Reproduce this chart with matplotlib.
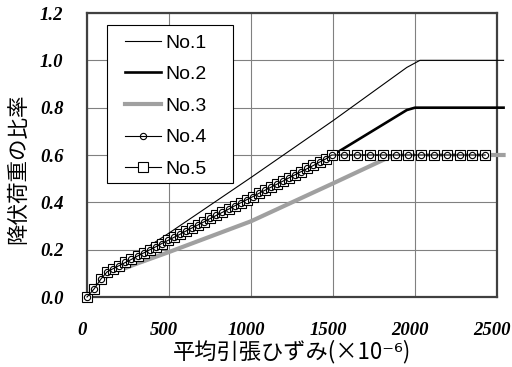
import matplotlib
matplotlib.use("Agg")
import matplotlib.pyplot as plt
from matplotlib.patches import Rectangle
from matplotlib.ticker import FormatStrFormatter
from matplotlib.transforms import ScaledTranslation

# series
x_no1 = [0, 43, 85, 122, 300, 500, 1000, 1500, 1950, 2030, 2540]
y_no1 = [0, 0.034, 0.076, 0.106, 0.18, 0.27, 0.505, 0.745, 0.97, 1.0, 1.0]

x_no2 = [0, 43, 85, 122, 500, 1000, 1500, 1950, 2000, 2540]
y_no2 = [0, 0.034, 0.076, 0.106, 0.240, 0.421, 0.600, 0.79, 0.80, 0.80]

x_no3 = [0, 43, 85, 150, 300, 500, 1000, 1500, 1870, 2540]
y_no3 = [0, 0.034, 0.07, 0.10, 0.14, 0.19, 0.32, 0.48, 0.60, 0.60]

x_no4 = [0, 43, 85, 122, 160, 197, 234, 271, 308, 345, 382, 419, 456, 493,
         530, 567, 604, 641, 678, 715, 752, 789, 826, 863, 900, 937, 974,
         1011, 1048, 1085, 1122, 1159, 1196, 1233, 1270, 1307, 1344, 1381,
         1418, 1455, 1492, 1570, 1648, 1726, 1804, 1882, 1960, 2038, 2116,
         2194, 2272, 2350, 2428]
y_no4 = [0, 0.034, 0.076, 0.106, 0.120, 0.133, 0.146, 0.159, 0.173, 0.186,
         0.199, 0.212, 0.226, 0.239, 0.252, 0.265, 0.279, 0.292, 0.305, 0.318,
         0.332, 0.345, 0.358, 0.371, 0.385, 0.398, 0.411, 0.424, 0.438, 0.451,
         0.464, 0.477, 0.490, 0.504, 0.517, 0.530, 0.543, 0.556, 0.570, 0.583,
         0.600, 0.600, 0.600, 0.600, 0.600, 0.600, 0.600, 0.600, 0.600, 0.600,
         0.600, 0.600, 0.600]

x_no5 = list(x_no4)
y_no5 = list(y_no4)

x_ticks = [0, 500, 1000, 1500, 2000, 2500]
y_ticks = [0.0, 0.2, 0.4, 0.6, 0.8, 1.0, 1.2]

cjk = ['Noto Sans CJK JP', 'DejaVu Sans']
tick_font = {'family': 'Liberation Serif', 'weight': 'bold', 'style': 'italic', 'size': 13.5}

fig = plt.figure(figsize=(5.12, 3.67), dpi=100)
ax = fig.add_axes([87 / 512, 1 - 297 / 367, 410 / 512, 284 / 367])

ax.plot(x_no3, y_no3, color='#a0a0a0', lw=3, label='No.3', clip_on=False, zorder=3)
ax.plot(x_no1, y_no1, color='black', lw=0.8, label='No.1', clip_on=False, zorder=4)
ax.plot(x_no2, y_no2, color='black', lw=1.9, label='No.2', clip_on=False, zorder=4)
ax.plot(x_no5, y_no5, color='black', lw=0.8, marker='s', ms=6.5, mfc='white',
        mec='black', mew=0.8, label='No.5', clip_on=False, zorder=5)
ax.plot(x_no4, y_no4, color='black', lw=0.8, marker='o', ms=4.5, mfc='none',
        mec='black', mew=0.8, label='No.4', clip_on=False, zorder=6)

ax.set_xlim(0, 2500)
ax.set_ylim(0, 1.2)
ax.set_xticks(x_ticks)
ax.set_yticks(y_ticks)
ax.yaxis.set_major_formatter(FormatStrFormatter('%.1f'))
ax.tick_params(length=0)
ax.tick_params(axis='x', pad=18)
ax.tick_params(axis='y', pad=17)
shift = ScaledTranslation(-5 / 100, 0, fig.dpi_scale_trans)
for lab in ax.get_xticklabels():
    lab.set_fontproperties(tick_font)
    lab.set_transform(lab.get_transform() + shift)
for lab in ax.get_yticklabels():
    lab.set_fontproperties(tick_font)

ax.grid(True, color='#808080', lw=0.8)
ax.set_axisbelow(True)
for sp in ax.spines.values():
    sp.set_color('#404040')
    sp.set_linewidth(1.6)

ax.set_xlabel('平均引張ひずみ(×10⁻⁶)', family=cjk, fontsize=16)
ax.xaxis.set_label_coords(0.5, -0.152)
ax.set_ylabel('降伏荷重の比率', family=cjk, fontsize=15.5)
ax.yaxis.set_label_coords(-0.14, 0.45)

# legend box is wider than its content in the reference, so draw it separately
box = Rectangle((20 / 410, 114 / 284), 126 / 410, 158 / 284, transform=ax.transAxes,
                facecolor='white', edgecolor='black', lw=0.8, zorder=9)
ax.add_patch(box)

handles, labels = ax.get_legend_handles_labels()
order = [labels.index(n) for n in ['No.1', 'No.2', 'No.3', 'No.4', 'No.5']]
leg = ax.legend([handles[i] for i in order], [labels[i] for i in order],
                loc='upper left', bbox_to_anchor=(38 / 410, 263 / 284),
                borderaxespad=0, frameon=False,
                prop={'family': 'Liberation Sans', 'size': 14},
                handlelength=1.85, handletextpad=0.25, labelspacing=0.72,
                borderpad=0)
leg.set_zorder(10)

fig.savefig('out.png', dpi=100)
